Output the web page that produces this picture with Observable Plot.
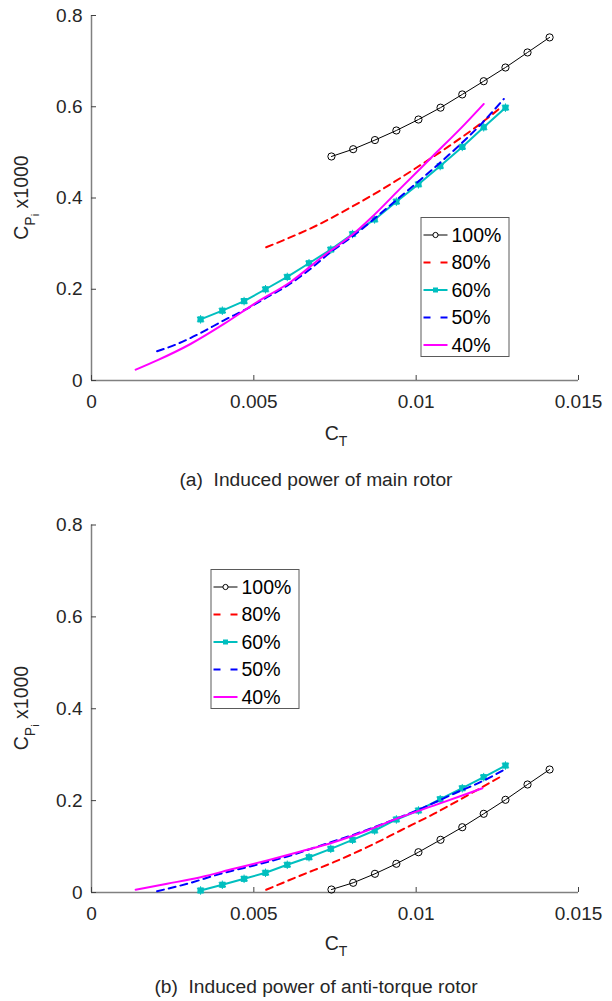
<!DOCTYPE html>
<html><head><meta charset="utf-8">
<script src="https://cdn.jsdelivr.net/npm/d3@7"></script>
<script src="https://cdn.jsdelivr.net/npm/@observablehq/plot@0.6"></script>
<style>
body{margin:0;background:#fff;}
#wrap{position:relative;width:612px;height:1001px;font-family:"Liberation Sans",Arial,sans-serif;}
.panel{position:absolute;left:0;}
.cap{position:absolute;left:0;width:632px;text-align:center;font-size:19.2px;line-height:19.2px;color:#262626;white-space:pre;}
</style></head><body>
<div id="wrap">
<div id="pa" class="panel" style="top:0px"></div>
<div class="cap" style="top:470px">(a)  Induced power of main rotor</div>
<div id="pb" class="panel" style="top:500px"></div>
<div class="cap" style="top:977px">(b)  Induced power of anti-torque rotor</div>
</div>
<script>
// ---------- data ----------
const seriesNames = ["100%", "80%", "60%", "50%", "40%"];
const xTicks = [0, 0.005, 0.01, 0.015];
const xTickLabels = ["0", "0.005", "0.01", "0.015"];
const yTicks = [0, 0.2, 0.4, 0.6, 0.8];
const yTickLabels = ["0", "0.2", "0.4", "0.6", "0.8"];

// 100% (circles), shared C_T
const ct100 = [0.00739, 0.00806, 0.00873, 0.00939, 0.01007, 0.01075, 0.01142, 0.01208, 0.01275, 0.01343, 0.01411];
const mainCp100 = [0.491, 0.507, 0.527, 0.548, 0.572, 0.598, 0.627, 0.656, 0.686, 0.719, 0.752];
const tailCp100 = [0.0065, 0.0211, 0.0407, 0.0625, 0.0877, 0.1147, 0.1421, 0.1713, 0.2018, 0.2351, 0.2677];

// 60% (squares), shared C_T
const ct60 = [0.00336, 0.00403, 0.00470, 0.00536, 0.00603, 0.00670, 0.00737, 0.00804, 0.00872, 0.00939, 0.01007, 0.01074, 0.01142, 0.01208, 0.01275];
const mainCp60 = [0.134, 0.153, 0.174, 0.200, 0.227, 0.257, 0.287, 0.321, 0.353, 0.392, 0.430, 0.470, 0.512, 0.555, 0.598];
const tailCp60 = [0.0044, 0.0168, 0.0298, 0.0429, 0.0603, 0.0768, 0.0951, 0.1147, 0.135, 0.159, 0.1785, 0.2031, 0.227, 0.2511, 0.2764];

// 80% (red dashed)
const mainCt80 = [0.00538, 0.0060, 0.0070, 0.0080, 0.0090, 0.0100, 0.0110, 0.0120, 0.01265];
const mainCp80 = [0.292, 0.310, 0.342, 0.380, 0.421, 0.466, 0.513, 0.564, 0.601];
const tailCt80 = [0.00538, 0.00644, 0.00746, 0.00849, 0.00952, 0.01054, 0.01157, 0.0126];
const tailCp80 = [0.0059, 0.037, 0.066, 0.0986, 0.135, 0.171, 0.211, 0.252];

// 50% (blue dashed)
const mainCt50 = [0.00202, 0.00264, 0.00336, 0.00408, 0.00470, 0.00542, 0.00603, 0.00675, 0.00736, 0.00808, 0.0090, 0.0100, 0.0110, 0.0120, 0.0127];
const mainCp50 = [0.064, 0.080, 0.104, 0.132, 0.154, 0.183, 0.208, 0.245, 0.281, 0.318, 0.372, 0.432, 0.494, 0.562, 0.617];
const tailCt50 = [0.00202, 0.00295, 0.00397, 0.0050, 0.00603, 0.00705, 0.00808, 0.00911, 0.01013, 0.01116, 0.01219, 0.01275];
const tailCp50 = [0.0028, 0.019, 0.0407, 0.0588, 0.0784, 0.102, 0.126, 0.153, 0.182, 0.215, 0.2475, 0.269];

// 40% (magenta solid)
const mainCt40 = [0.00136, 0.00202, 0.00305, 0.00408, 0.00510, 0.00613, 0.00716, 0.00808, 0.00859, 0.0095, 0.0105, 0.0115, 0.01208];
const mainCp40 = [0.0236, 0.044, 0.080, 0.124, 0.172, 0.216, 0.274, 0.322, 0.355, 0.420, 0.491, 0.562, 0.606];
const tailCt40 = [0.00136, 0.00233, 0.00336, 0.00438, 0.00541, 0.00644, 0.00746, 0.00849, 0.00952, 0.01054, 0.01157, 0.01204];
const tailCp40 = [0.0059, 0.019, 0.0333, 0.0516, 0.0697, 0.0892, 0.1095, 0.135, 0.164, 0.189, 0.215, 0.227];

// ---------- styles ----------
const FONT = '"Liberation Sans", Arial, sans-serif';
const TXT = "#262626";
const styles = {
  "100%": {stroke: "#000000", width: 1, dash: null, marker: "circle"},
  "80%": {stroke: "#ff0000", width: 2, dash: "7,5", marker: null},
  "60%": {stroke: "#00bfbf", width: 2, dash: null, marker: "square"},
  "50%": {stroke: "#0000ff", width: 2, dash: "7,5", marker: null},
  "40%": {stroke: "#ff00ff", width: 2, dash: null, marker: null}
};

const zip = (xs, ys) => xs.map((x, i) => ({ct: x, cp: ys[i]}));

function panel(el, opts) {
  const {mt, mb, h, series, legend, yLabelY, xLabelY} = opts;
  const marks = [
    Plot.ruleX([0], {stroke: "#808080", strokeWidth: 1.5}),
    Plot.ruleY([0], {stroke: "#808080", strokeWidth: 1.5}),
    Plot.axisX({ticks: xTicks, tickFormat: d => xTickLabels[xTicks.indexOf(d)], tickSize: -5, tickPadding: 19,
      fontSize: 19, color: TXT, stroke: "#404040", label: null}),
    Plot.axisY({ticks: yTicks, tickFormat: d => yTickLabels[yTicks.indexOf(d)], tickSize: -5, tickPadding: 14,
      fontSize: 19, color: TXT, stroke: "#404040", label: null})
  ];
  for (const name of seriesNames) {
    const st = styles[name];
    const data = series[name];
    marks.push(Plot.line(data, {x: "ct", y: "cp", stroke: st.stroke, strokeWidth: st.width,
      strokeDasharray: st.dash, curve: st.marker ? "linear" : "monotone-x"}));
    if (st.marker === "circle")
      marks.push(Plot.dot(data, {x: "ct", y: "cp", r: 3.6, stroke: st.stroke, fill: "none", strokeWidth: 1}));
    if (st.marker === "square") {
      marks.push(Plot.dot(data, {x: "ct", y: "cp", symbol: "square", r: 3.5, fill: st.stroke, stroke: "none"}));
      marks.push(Plot.dot(data, {x: "ct", y: "cp", symbol: "asterisk", r: 4, stroke: st.stroke, strokeWidth: 1}));
    }
  }
  const plot = Plot.plot({
    width: 612, height: h,
    marginLeft: 91, marginRight: 34, marginTop: mt, marginBottom: mb,
    style: {fontFamily: FONT, fontSize: "19px", color: TXT, background: "white", overflow: "visible"},
    x: {domain: [0, 0.015]},
    y: {domain: [0, 0.8]},
    marks
  });
  const svg = d3.select(plot);
  // y label
  const yl = svg.append("text").attr("transform", `translate(28,${yLabelY}) rotate(-90)`)
    .attr("text-anchor", "middle").attr("font-size", 19.5).attr("fill", TXT).attr("font-family", FONT);
  yl.append("tspan").text("C");
  yl.append("tspan").attr("font-size", 14).attr("dy", 7).text("P");
  yl.append("tspan").attr("font-size", 11).attr("dy", 4).text("i");
  yl.append("tspan").attr("dy", -11).text(" x1000");
  // x label
  const xl = svg.append("text").attr("x", 336).attr("y", xLabelY)
    .attr("text-anchor", "middle").attr("font-size", 19.5).attr("fill", TXT).attr("font-family", FONT);
  xl.append("tspan").text("C");
  xl.append("tspan").attr("font-size", 14).attr("dy", 6).text("T");
  // legend
  const g = svg.append("g").attr("transform", `translate(${legend.x},${legend.y})`);
  g.append("rect").attr("x", 0.5).attr("y", 0.5).attr("width", 88).attr("height", 139)
    .attr("fill", "white").attr("stroke", "#5a5a5a").attr("stroke-width", 1);
  seriesNames.forEach((name, i) => {
    const st = styles[name];
    const cy = 18 + i * 27.5;
    g.append("line").attr("x1", 3).attr("x2", 27).attr("y1", cy).attr("y2", cy)
      .attr("stroke", st.stroke).attr("stroke-width", st.width).attr("stroke-dasharray", st.dash ? "7,10" : null);
    if (st.marker === "circle")
      g.append("circle").attr("cx", 15).attr("cy", cy).attr("r", 2.6).attr("fill", "white").attr("stroke", st.stroke);
    if (st.marker === "square")
      g.append("rect").attr("x", 12.5).attr("y", cy - 2.5).attr("width", 5).attr("height", 5).attr("fill", st.stroke);
    g.append("text").attr("x", 31).attr("y", cy + 6.8).attr("font-size", 19.5).attr("fill", "#000")
      .attr("text-anchor", "start").attr("font-family", FONT).text(name);
  });
  document.getElementById(el).appendChild(plot);
}

panel("pa", {
  mt: 15, mb: 90, h: 470, yLabelY: 197.5, xLabelY: 440,
  legend: {x: 420.5, y: 217},
  series: {
    "100%": zip(ct100, mainCp100),
    "80%": zip(mainCt80, mainCp80),
    "60%": zip(ct60, mainCp60),
    "50%": zip(mainCt50, mainCp50),
    "40%": zip(mainCt40, mainCp40)
  }
});
panel("pb", {
  mt: 24.5, mb: 78, h: 470, yLabelY: 208, xLabelY: 450,
  legend: {x: 210.5, y: 69},
  series: {
    "100%": zip(ct100, tailCp100),
    "80%": zip(tailCt80, tailCp80),
    "60%": zip(ct60, tailCp60),
    "50%": zip(tailCt50, tailCp50),
    "40%": zip(tailCt40, tailCp40)
  }
});
</script>
</body></html>
